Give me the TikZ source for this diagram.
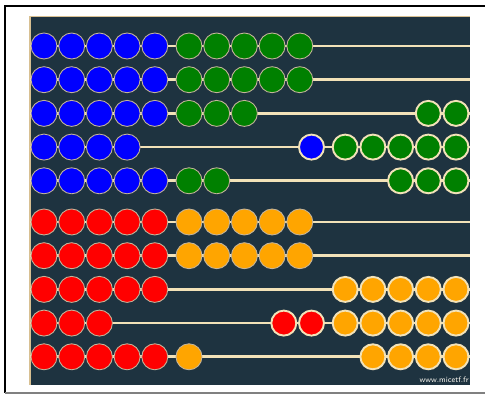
\documentclass[tikz,border=0pt]{standalone}
\usepackage{xcolor}
\usepackage{tikz}

\definecolor{slate}{HTML}{1E3340}
\definecolor{wood}{HTML}{F2E2B8}
\definecolor{edge}{HTML}{C4B49A}
\definecolor{trim}{HTML}{D8C092}
\definecolor{beadgreen}{HTML}{008000}
\definecolor{beadorange}{HTML}{FFA500}

\begin{document}
\begin{tikzpicture}[x=0.02cm, y=-0.02cm,
    bead/.style={circle, draw=edge, line width=0.5pt, fill=#1, minimum size=0.52cm, inner sep=0pt},
    slid/.style={bead=#1, draw=wood, line width=1.1pt, minimum size=0.5cm},
    rod/.style={draw=wood, line width=1.5pt}
]
\useasboundingbox (0,0) rectangle (485,394);

% Frame and board
\draw[black, line width=1.1pt] (490,6) -- (5,6) -- (5,393);
\draw[gray, line width=0.6pt] (5,393) -- (490,393);
\fill[slate] (30,16) rectangle (470,385);
\draw[trim, line width=1pt] (30,385) -- (30,16.5) -- (470,16.5);

% Rods and beads: row / y / colour 1 / colour 2 / left 1 / left 2 / slid 1 / slid 2
\foreach \r/\y/\ca/\cb/\p/\q/\m/\s in {
    1/46/blue/beadgreen/5/5/0/0,
    2/79.7/blue/beadgreen/5/5/0/0,
    3/113.4/blue/beadgreen/5/3/0/2,
    4/147.1/blue/beadgreen/4/0/1/5,
    5/180.8/blue/beadgreen/5/2/0/3,
    6/222/red/beadorange/5/5/0/0,
    7/255.7/red/beadorange/5/5/0/0,
    8/289.4/red/beadorange/5/0/0/5,
    9/323.1/red/beadorange/3/0/2/5,
    10/356.8/red/beadorange/5/1/0/4}
{
    \coordinate (w\r) at (30,\y);
    \coordinate (e\r) at (470,\y);
    \draw[rod] (w\r) -- (e\r);
    \foreach \k in {1,...,5}{
        \ifnum\k>\p\else \node[bead=\ca] (a\r-\k) at ({44+27.7*(\k-1)},\y) {};\fi
        \ifnum\k>\q\else \node[bead=\cb] (b\r-\k) at ({189+27.7*(\k-1)},\y) {};\fi
        \ifnum\k>\s\else \node[slid=\cb] (c\r-\k) at ({456-27.7*(\k-1)},\y) {};\fi
        \ifnum\k>\m\else \node[slid=\ca] (d\r-\k) at ({450-27.7*(\s+\k-1)},\y) {};\fi
    }
}

% Credit
\node[anchor=base east, inner sep=0pt, text=white!80!wood, font=\sffamily\fontsize{4.5}{5}\selectfont] (credit) at (469,382.5) {www.micetf.fr};

\end{tikzpicture}
\end{document}
